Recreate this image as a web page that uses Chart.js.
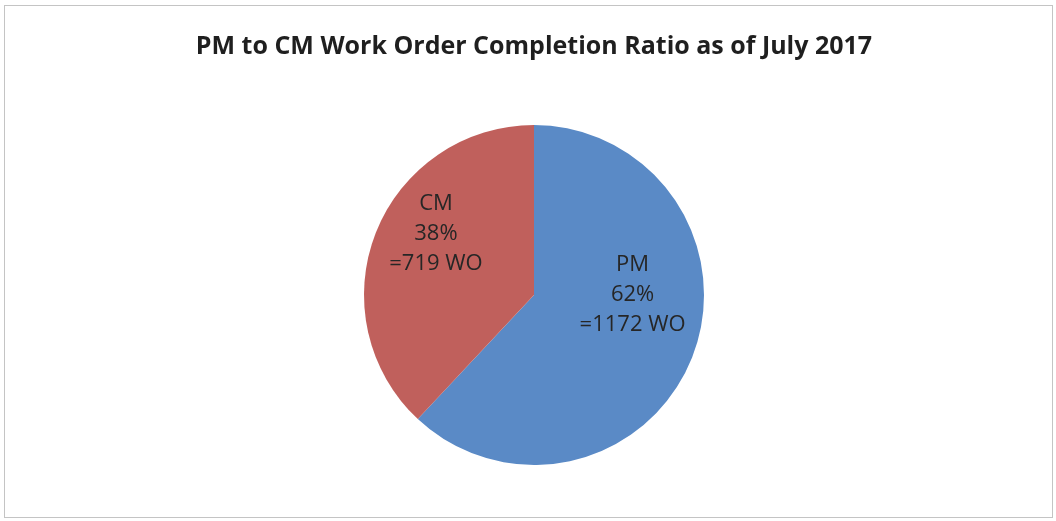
<!DOCTYPE html>
<html lang="en">
<head>
    <meta charset="UTF-8">
    <title>PM to CM Work Order Completion Ratio</title>
    <script src="https://cdn.jsdelivr.net/npm/chart.js"></script>
    <style>
        body {
            margin: 0;
            padding: 0;
            background: #ffffff;
            font-family: "Open Sans", Arial, sans-serif;
        }
        #frame {
            position: absolute;
            left: 4px;
            top: 5px;
            width: 1047px;
            height: 511px;
            border: 1px solid #c4c4c4;
        }
        #wrap {
            position: absolute;
            left: 0;
            top: 0;
            width: 1056px;
            height: 521px;
        }
    </style>
</head>
<body>
    <div id="frame"></div>
    <div id="wrap"><canvas id="pieChart"></canvas></div>

    <script>
        // data
        const categories = ['PM', 'CM'];
        const workOrders = [1172, 719];
        const percents = ['62%', '38%'];
        const sliceColors = ['#5a8ac6', '#c0605c'];

        // where each label sits: angle from 12 o'clock (deg, clockwise) and distance as a fraction of radius
        const labelAngles = [90, 302];
        const labelDist = [0.58, 0.68];

        const insideLabels = {
            id: 'insideLabels',
            afterDatasetsDraw(chart) {
                const ctx = chart.ctx;
                const meta = chart.getDatasetMeta(0);
                ctx.save();
                ctx.font = '22px "Open Sans", Arial, sans-serif';
                ctx.fillStyle = '#262626';
                ctx.textAlign = 'center';
                ctx.textBaseline = 'middle';
                meta.data.forEach((arc, i) => {
                    const a = labelAngles[i] * Math.PI / 180;
                    const r = arc.outerRadius * labelDist[i];
                    const cx = arc.x + Math.sin(a) * r;
                    const cy = arc.y - Math.cos(a) * r;
                    const lines = [categories[i], percents[i], '=' + workOrders[i] + ' WO'];
                    lines.forEach((t, k) => {
                        ctx.fillText(t, cx, cy + (k - 1) * 30);
                    });
                });
                ctx.restore();
            }
        };

        new Chart(document.getElementById('pieChart').getContext('2d'), {
            type: 'pie',
            data: {
                labels: categories,
                datasets: [{
                    data: workOrders,
                    backgroundColor: sliceColors,
                    borderWidth: 0
                }]
            },
            options: {
                responsive: true,
                maintainAspectRatio: false,
                animation: false,
                layout: { padding: { left: 12, right: 0, top: 0, bottom: 56 } },
                plugins: {
                    legend: { display: false },
                    tooltip: { enabled: false },
                    title: {
                        display: true,
                        text: 'PM to CM Work Order Completion Ratio as of July 2017',
                        color: '#1f1f1f',
                        font: { family: '"Open Sans", Arial, sans-serif', size: 25, weight: 'bold' },
                        padding: { top: 32, bottom: 63 }
                    }
                }
            },
            plugins: [insideLabels]
        });
    </script>
</body>
</html>
